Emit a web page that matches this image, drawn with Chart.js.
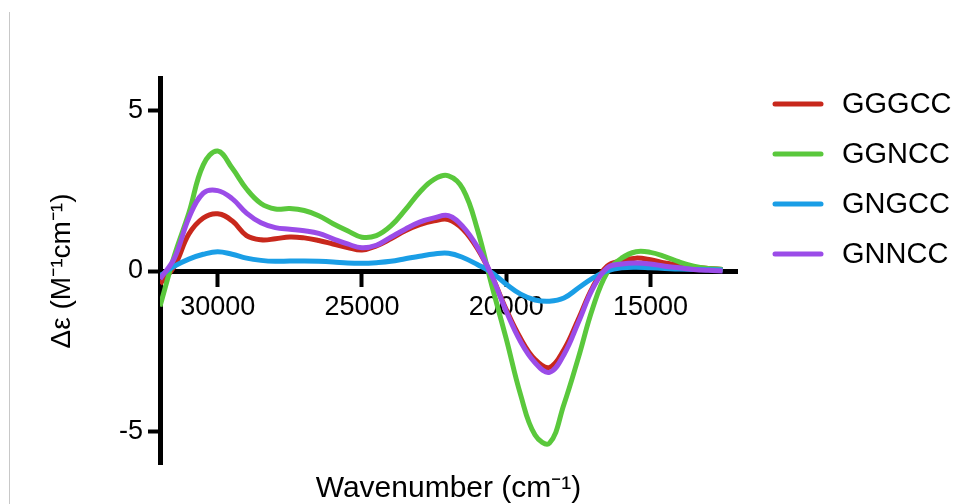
<!DOCTYPE html>
<html>
<head>
<meta charset="utf-8">
<script src="https://cdn.jsdelivr.net/npm/chart.js@4/dist/chart.umd.min.js"></script>
<style>
  html, body { margin: 0; padding: 0; background: #fff; }
  #wrap { position: relative; width: 965px; height: 504px; }
  #edge { position: absolute; left: 9px; top: 12px; width: 1px; height: 492px; background: #c8c8c8; }
  canvas { position: absolute; left: 0; top: 0; }
</style>
</head>
<body>
<div id="wrap">
  <div id="edge"></div>
  <canvas id="chartCD" width="965" height="504"></canvas>
</div>
<script>
// wavenumber (cm-1), read every 500 cm-1 from the plot
const wavenumbers = [32000, 31500, 31000, 30500, 30000, 29500, 29000, 28500, 28000, 27500,
                     27000, 26500, 26000, 25500, 25000, 24500, 24000, 23500, 23000, 22500,
                     22000, 21500, 21000, 20500, 20000, 19500, 19000, 18500, 18000, 17500,
                     17000, 16500, 16000, 15500, 15000, 14500, 14000, 13500, 13000, 12500];

const seriesNames = ["GGGCC", "GGNCC", "GNGCC", "GNNCC"];
const seriesColors = ["#c8281c", "#5ac83c", "#1a9ee6", "#9b4ce8"];

const gggcc = [-0.4, 0.15, 1.15, 1.65, 1.78, 1.56, 1.1, 0.97, 1.0, 1.06,
               1.03, 0.95, 0.84, 0.73, 0.65, 0.78, 1.0, 1.25, 1.44, 1.56,
               1.6, 1.3, 0.7, -0.15, -1.2, -2.1, -2.75, -3.0, -2.45, -1.5,
               -0.5, 0.15, 0.32, 0.4, 0.35, 0.25, 0.18, 0.12, 0.08, 0.05];
const ggncc = [-1.1, 0.48, 1.8, 3.3, 3.73, 3.2, 2.55, 2.1, 1.93, 1.94,
               1.88, 1.72, 1.47, 1.25, 1.05, 1.1, 1.4, 1.9, 2.45, 2.85,
               2.96, 2.55, 1.3, -0.45, -2.1, -3.85, -5.1, -5.35, -4.15, -2.7,
               -1.15, -0.05, 0.4, 0.6, 0.58, 0.45, 0.28, 0.15, 0.08, 0.05];
const gngcc = [-0.15, 0.15, 0.37, 0.52, 0.6, 0.52, 0.4, 0.33, 0.3, 0.31,
               0.31, 0.3, 0.28, 0.25, 0.24, 0.26, 0.3, 0.38, 0.46, 0.53,
               0.55, 0.42, 0.2, -0.05, -0.41, -0.72, -0.9, -0.94, -0.84, -0.53,
               -0.22, 0.0, 0.1, 0.12, 0.1, 0.08, 0.06, 0.05, 0.04, 0.03];
const gnncc = [-0.25, 0.4, 1.65, 2.42, 2.5, 2.25, 1.8, 1.5, 1.35, 1.3,
               1.25, 1.17, 1.0, 0.84, 0.72, 0.8, 1.05, 1.3, 1.52, 1.65,
               1.72, 1.38, 0.75, -0.15, -1.25, -2.2, -2.85, -3.15, -2.6, -1.6,
               -0.55, 0.1, 0.22, 0.25, 0.22, 0.15, 0.1, 0.05, 0.02, 0.0];

const xTickValues = [30000, 25000, 20000, 15000];
const yTickValues = [-5, 0, 5];

const allSeries = [gggcc, ggncc, gngcc, gnncc];
const drawOrder = [3, 2, 1, 0]; // purple on top

const FONT = '"Liberation Sans", Arial, Helvetica, sans-serif';

// legend on the right, drawn by hand so rows line up with the picture
const sideLegend = {
    id: "sideLegend",
    afterDraw(chart) {
        const ctx = chart.ctx;
        ctx.save();
        chart.data.datasets.forEach((ds, i) => {
            const y = 104 + i * 50;
            ctx.strokeStyle = ds.borderColor;
            ctx.lineWidth = 5;
            ctx.lineCap = "round";
            ctx.beginPath();
            ctx.moveTo(775, y);
            ctx.lineTo(821, y);
            ctx.stroke();
            ctx.fillStyle = "#000";
            ctx.font = "29px " + FONT;
            ctx.textBaseline = "middle";
            ctx.textAlign = "left";
            ctx.fillText(ds.label, 842, y + 1);
        });
        ctx.restore();
    }
};

const ctx = document.getElementById("chartCD").getContext("2d");
new Chart(ctx, {
    type: "line",
    data: {
        datasets: seriesNames.map((name, s) => ({
            label: name,
            data: wavenumbers.map((w, i) => ({ x: w, y: allSeries[s][i] })),
            borderColor: seriesColors[s],
            backgroundColor: seriesColors[s],
            borderWidth: 5,
            pointRadius: 0,
            tension: 0.4,
            fill: false,
            order: drawOrder[s]
        }))
    },
    options: {
        responsive: false,
        animation: false,
        layout: { padding: { left: 40, right: 228, top: 78, bottom: 0 } },
        plugins: { legend: { display: false }, tooltip: { enabled: false } },
        scales: {
            x: {
                type: "linear",
                reverse: true,
                min: 12000,
                max: 32000,
                position: { y: 0 },
                afterFit: s => { s.height = 0; },
                afterBuildTicks: s => { s.ticks = xTickValues.map(v => ({ value: v })); },
                grid: { drawOnChartArea: false, drawTicks: true, tickLength: 13, tickWidth: 4, tickColor: "#000" },
                border: { display: true, width: 5, color: "#000" },
                ticks: { color: "#000", padding: 7, maxRotation: 0, autoSkip: false, font: { family: FONT, size: 27 },
                         callback: v => String(v) }
            },
            xt: {
                type: "linear",
                position: "bottom",
                display: true,
                afterFit: s => { s.height = 40; },
                grid: { display: false },
                border: { display: false },
                ticks: { display: false },
                title: { display: true, text: "Wavenumber (cm⁻¹)", color: "#000",
                         font: { family: FONT, size: 30 }, padding: { top: 0, bottom: -3 } }
            },
            y: {
                min: -6,
                max: 6,
                afterFit: s => { s.width = 120; },
                afterBuildTicks: s => { s.ticks = yTickValues.map(v => ({ value: v })); },
                grid: { drawOnChartArea: false, drawTicks: true, tickLength: 12, tickWidth: 4, tickColor: "#000" },
                border: { display: true, width: 5, color: "#000" },
                ticks: { color: "#000", padding: 5, font: { family: FONT, size: 27 } },
                title: { display: true, text: "Δε (M⁻¹cm⁻¹)", color: "#000",
                         font: { family: FONT, size: 28 }, padding: { top: 5, bottom: 0 } }
            }
        }
    },
    plugins: [sideLegend]
});
</script>
</body>
</html>
